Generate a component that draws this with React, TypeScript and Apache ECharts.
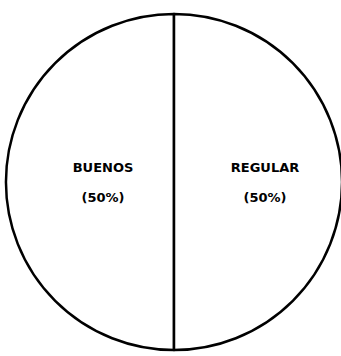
import React, { useEffect, useRef } from "react";
import * as echarts from "echarts";

const categories = ["BUENOS", "REGULAR"];
const values = [50, 50];

export default function App() {
  const ref = useRef<HTMLDivElement>(null);
  useEffect(() => {
    document.body.style.margin = "0";
    const chart = echarts.init(ref.current!, null, { renderer: "svg" });
    chart.setOption({
      animation: false,
      backgroundColor: "#ffffff",
      series: [
        {
          type: "pie",
          center: [174, 182],
          radius: 168,
          startAngle: 90,
          clockwise: false,
          silent: true,
          data: categories.map((c, i) => ({ name: c, value: values[i] })),
          itemStyle: { color: "#ffffff", borderColor: "#000000", borderWidth: 2.5 },
          label: {
            show: true,
            position: "inside",
            formatter: "{b}\n\n({d}%)",
            color: "#000000",
            fontFamily: "DejaVu Sans",
            fontWeight: 900,
            fontSize: 13,
            lineHeight: 15,
          },
          labelLine: { show: false },
          labelLayout: (p: any) => ({ dx: p.dataIndex === 0 ? 16 : 4 }),
        },
      ],
    });
    return () => chart.dispose();
  }, []);
  return <div ref={ref} style={{ width: 341, height: 356 }} />;
}
